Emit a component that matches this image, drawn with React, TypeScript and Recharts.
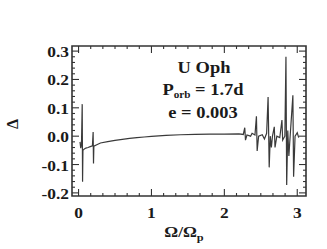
import { LineChart, Line, XAxis, YAxis, ReferenceArea } from 'recharts';

// Omega/Omega_p vs Delta
const omega = [
  0.02, 0.03, 0.04, 0.05, 0.055, 0.06, 0.08, 0.1, 0.13, 0.16, 0.19, 0.2, 0.205, 0.21, 0.25,
  0.3, 0.4, 0.5, 0.6, 0.7, 0.8, 0.9, 1.0, 1.1, 1.2, 1.4, 1.6, 1.8, 2.0, 2.2, 2.26, 2.28,
  2.29, 2.31, 2.36, 2.38, 2.42, 2.44, 2.45, 2.47, 2.52, 2.55, 2.58, 2.6, 2.615, 2.63, 2.645,
  2.66, 2.685, 2.695, 2.72, 2.76, 2.79, 2.8, 2.83, 2.845, 2.855, 2.87, 2.885, 2.9, 2.94,
  2.95, 2.97, 3.0, 3.02,
];
const delta = [
  -0.02, -0.042, -0.03, 0.113, -0.161, -0.05, -0.045, -0.042, -0.04, -0.037, -0.034, 0.015,
  -0.096, -0.035, -0.03, -0.024, -0.019, -0.015, -0.011, -0.008, -0.005, -0.003, -0.001,
  0.001, 0.003, 0.005, 0.006, 0.007, 0.007, 0.008, 0.006, 0.03, -0.014, 0.004, 0.0, 0.01,
  0.004, 0.07, -0.052, 0.0, 0.005, -0.01, 0.01, 0.138, -0.11, 0.0, -0.04, 0.0, 0.033, -0.04,
  0.0, -0.005, 0.057, -0.014, 0.0, 0.28, -0.172, 0.02, -0.07, -0.01, 0.144, -0.143, 0.0,
  0.012, -0.005,
];

const xMajor = [0, 1, 2, 3];
const yMajor = [-0.2, -0.1, 0, 0.1, 0.2, 0.3];
const yLabels = ['-0.2', '-0.1', '0.0', '0.1', '0.2', '0.3'];

const xTicks: number[] = [];
for (let k = 0; k <= 18; k++) xTicks.push(k / 6);
const yTicks: number[] = [];
for (let k = -10; k <= 15; k++) yTicks.push(k / 50);

const data = omega.map((w, i) => ({ w, d: delta[i] }));

const W = 327;
const H = 249;
const MARGIN = { top: 46, right: 21, bottom: 0, left: 0 };
const PLOT_TOP = MARGIN.top;
const PLOT_RIGHT = W - MARGIN.right;

const FONT = "'Liberation Serif', serif";
const INK = '#1a1a1a';
const FRAME = '#333';
const SX = 1.12; // source lettering is a little wide

const near = (a: number, b: number) => Math.abs(a - b) < 1e-6;
const isXMajor = (v: number) => xMajor.some((m) => near(m, v));
const yLabelOf = (v: number) => {
  const i = yMajor.findIndex((m) => near(m, v));
  return i < 0 ? null : yLabels[i];
};

const txt = (size: number) => ({ fontFamily: FONT, fontWeight: 700, fontSize: size, fill: INK });

const Lbl = ({ x, y, anchor, size, children }: any) => (
  <text transform={`translate(${x},${y}) scale(${SX},1)`} textAnchor={anchor} style={txt(size)}>
    {children}
  </text>
);

// bottom axis tick, mirrored on the top edge
const BottomTick = ({ x, y, payload }: any) => {
  const major = isXMajor(payload.value);
  const len = major ? 7 : 3;
  return (
    <g>
      <line x1={x} y1={y} x2={x} y2={y - len} stroke={FRAME} strokeWidth={1.1} />
      <line x1={x} y1={PLOT_TOP} x2={x} y2={PLOT_TOP + len} stroke={FRAME} strokeWidth={1.1} />
      {major && (
        <Lbl x={x} y={y + 22} anchor="middle" size={15.5}>
          {Math.round(payload.value)}
        </Lbl>
      )}
    </g>
  );
};

// left axis tick, mirrored on the right edge
const LeftTick = ({ x, y, payload }: any) => {
  const lab = yLabelOf(payload.value);
  const len = lab ? 7 : 3;
  return (
    <g>
      <line x1={x} y1={y} x2={x + len} y2={y} stroke={FRAME} strokeWidth={1.1} />
      <line x1={PLOT_RIGHT} y1={y} x2={PLOT_RIGHT - len} y2={y} stroke={FRAME} strokeWidth={1.1} />
      {lab && (
        <Lbl x={x - 3} y={y + 6} anchor="end" size={15.5}>
          {lab}
        </Lbl>
      )}
    </g>
  );
};

export default function App() {
  const xDomain: [number, number] = [-0.09, 3.12];
  const yDomain: [number, number] = [-0.211, 0.318];
  return (
    <div style={{ position: 'absolute', left: 0, top: 0, width: W, height: H }}>
      <LineChart width={W} height={H} data={data} margin={MARGIN}>
        <XAxis
          dataKey="w"
          type="number"
          domain={xDomain}
          allowDataOverflow
          ticks={xTicks}
          interval={0}
          tickSize={0}
          tickMargin={0}
          tickLine={false}
          tick={<BottomTick />}
          axisLine={false}
          height={53}
        />
        <YAxis
          type="number"
          domain={yDomain}
          allowDataOverflow
          ticks={yTicks}
          interval={0}
          tickSize={0}
          tickMargin={0}
          tickLine={false}
          tick={<LeftTick />}
          axisLine={false}
          width={72}
        />
        <ReferenceArea
          x1={xDomain[0]}
          x2={xDomain[1]}
          y1={yDomain[0]}
          y2={yDomain[1]}
          fill="none"
          stroke={FRAME}
          strokeWidth={1.6}
          ifOverflow="visible"
        />
        <Line
          dataKey="d"
          type="linear"
          stroke="#3a3a3a"
          strokeWidth={1.2}
          dot={false}
          isAnimationActive={false}
        />
      </LineChart>
      <svg
        width={W}
        height={H}
        style={{ position: 'absolute', left: 0, top: 0, pointerEvents: 'none' }}
      >
        <Lbl x={204} y={73} anchor="middle" size={16.5}>U Oph</Lbl>
        <Lbl x={203} y={95} anchor="middle" size={16.5}>
          P<tspan fontSize={10} dy={3}>orb</tspan>
          <tspan dy={-3}> = 1.7d</tspan>
        </Lbl>
        <Lbl x={203} y={118} anchor="middle" size={16.5}>e = 0.003</Lbl>
        <text transform="translate(18,124) rotate(-90)" textAnchor="middle" style={txt(16)}>
          {'\u0394'}
        </text>
        <Lbl x={184} y={237} anchor="middle" size={15.5}>
          {'\u03A9/\u03A9'}
          <tspan fontSize={11} dy={4}>p</tspan>
        </Lbl>
      </svg>
    </div>
  );
}
